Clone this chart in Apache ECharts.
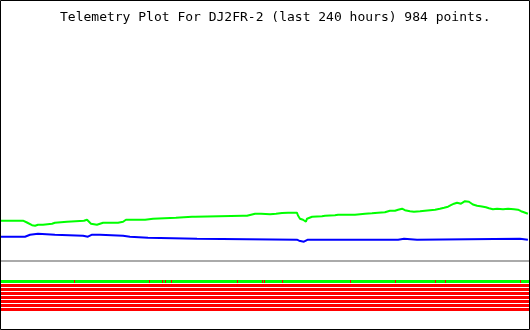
<!DOCTYPE html>
<html><head><meta charset="utf-8">
<script src="https://cdn.jsdelivr.net/npm/echarts@6/dist/echarts.min.js"></script>
<style>html,body{margin:0;padding:0;background:#fff}#c{width:530px;height:330px}</style>
</head><body><div id="c"></div>
<script>
const titleText = 'Telemetry Plot For DJ2FR-2 (last 240 hours) 984 points.';

// hours relative to now (-240 .. 0)
const greenHours = [-240.0,-230.0,-229.5,-229.1,-228.2,-227.3,-225.9,-224.5,-223.2,-220.9,-220.0,-216.8,-216.4,-215.5,-210.0,-202.3,-200.9,-200.0,-199.1,-198.2,-196.4,-195.5,-193.6,-186.8,-186.4,-184.5,-184.1,-183.2,-174.5,-174.1,-170.9,-170.5,-160.5,-160.0,-153.2,-152.7,-151.8,-151.4,-130.0,-129.1,-128.2,-127.3,-124.5,-121.8,-117.7,-115.0,-112.3,-109.5,-105.5,-105.0,-104.1,-102.7,-101.8,-101.4,-100.9,-100.0,-98.6,-94.1,-92.7,-88.2,-86.8,-79.1,-76.8,-74.5,-71.4,-68.6,-65.5,-63.2,-60.9,-59.5,-57.7,-56.4,-54.1,-52.3,-49.5,-47.3,-45.0,-42.7,-40.5,-38.6,-36.8,-35.5,-34.1,-32.7,-31.8,-30.9,-30.0,-29.1,-28.2,-27.3,-26.4,-25.5,-23.6,-21.4,-19.6,-18.2,-17.3,-16.4,-14.5,-11.8,-9.5,-6.8,-5.0,-3.6,-2.3,-0.5];
const greenValues = [40.3,40.3,41.3,40.3,38.5,37.3,35.8,35.3,36.3,36.3,37.3,37.3,38.3,38.3,39.3,40.3,41.3,39.3,37.3,36.3,36.3,37.3,38.3,38.3,39.3,39.3,40.3,41.3,41.3,42.3,42.3,43.3,43.3,44.3,44.3,45.3,44.3,45.3,45.3,46.3,45.3,46.3,47.3,47.3,46.8,47.3,48.0,48.3,48.3,45.5,42.3,41.3,39.8,39.3,42.3,43.3,44.3,44.8,45.3,45.8,46.3,46.3,46.8,47.3,47.8,48.3,48.8,50.3,50.3,51.3,52.3,50.8,49.8,49.3,49.8,50.3,50.8,51.3,52.3,53.3,54.3,55.8,57.3,58.3,58.7,57.3,59.3,59.8,57.8,59.3,58.8,56.5,55.3,54.5,53.8,52.8,50.8,51.8,52.3,51.8,52.3,51.8,51.3,49.8,48.8,47.3];

const blueHours = [-240.0,-229.1,-228.2,-226.8,-225.9,-223.2,-222.7,-215.5,-215.0,-202.7,-202.3,-200.5,-200.0,-198.6,-195.0,-194.5,-184.5,-184.1,-181.4,-180.9,-173.2,-172.7,-150.9,-150.5,-105.5,-104.5,-102.3,-101.4,-100.5,-59.5,-59.1,-56.8,-56.4,-50.9,-50.5,-4.1,-3.6,-0.5];
const blueValues = [24.3,24.3,25.3,26.3,27.3,27.3,26.3,26.3,25.3,25.3,24.3,24.3,25.3,26.3,26.3,25.3,25.3,24.3,24.3,23.3,23.3,22.3,22.3,21.3,21.3,20.3,19.3,20.3,21.3,21.3,22.3,22.3,21.3,21.3,22.3,22.3,21.3,21.3];

// telemetry bits: default state per bit row (1 = set), and times where bit 1 dropped to 0
const bitRowDefault = [1,0,0,0,0,0,0,0];
const bit1LowHours = [-206.8,-172.7,-166.8,-165.5,-162.7,-132.7,-121.4,-120.5,-112.3,-81.4,-60.9,-42.7,-38.2,-4.1];

const pairs = (xs, ys) => xs.map((x, i) => [x, ys[i]]);
const bitData = [];
bitRowDefault.forEach((s, r) => bitData.push([-240, 0, r, s]));
bit1LowHours.forEach(h => bitData.push([h, h, 0, 0]));

function renderBits(params, api) {
  const h0 = api.value(0), h1 = api.value(1), row = api.value(2), st = api.value(3);
  const p0 = api.coord([h0, row]);
  const p1 = api.coord([h1, row]);
  let x0 = Math.round(p0[0]), x1 = Math.round(p1[0]);
  if (x1 <= x0) x1 = x0 + 1;
  const rowH = api.size([0, 1])[1];
  return {
    type: 'rect',
    shape: { x: x0, y: Math.round(p0[1]), width: x1 - x0, height: rowH - 1 },
    style: { fill: st ? '#00ff00' : '#ff0000' }
  };
}

const chart = echarts.init(document.getElementById('c'), null, { renderer: 'canvas' });
chart.setOption({
  animation: false,
  backgroundColor: '#ffffff',
  title: {
    text: titleText, left: 60, top: 11, padding: 0,
    textStyle: { fontFamily: 'DejaVu Sans Mono', fontSize: 13, fontWeight: 'normal', color: '#000' }
  },
  grid: [
    { left: 1, width: 528, top: 21, height: 240 },
    { left: 1, width: 528, top: 280, height: 32 }
  ],
  xAxis: [
    { type: 'value', gridIndex: 0, min: -240, max: 0,
      axisLine: { show: true, onZero: false, lineStyle: { color: '#aaaaaa', width: 2 } },
      axisTick: { show: false }, axisLabel: { show: false }, splitLine: { show: false } },
    { type: 'value', gridIndex: 1, min: -240, max: 0, show: false }
  ],
  yAxis: [
    { type: 'value', gridIndex: 0, min: 0, max: 240, show: false, splitLine: { show: false } },
    { type: 'value', gridIndex: 1, min: 0, max: 8, inverse: true, show: false, splitLine: { show: false } }
  ],
  series: [
    { type: 'line', xAxisIndex: 0, yAxisIndex: 0, data: pairs(greenHours, greenValues),
      showSymbol: false, symbol: 'none', lineStyle: { color: '#00ff00', width: 2 }, z: 3 },
    { type: 'line', xAxisIndex: 0, yAxisIndex: 0, data: pairs(blueHours, blueValues),
      showSymbol: false, symbol: 'none', lineStyle: { color: '#0000ff', width: 2 }, z: 3 },
    { type: 'custom', xAxisIndex: 1, yAxisIndex: 1, data: bitData, renderItem: renderBits,
      encode: { x: [0, 1], y: 2 }, silent: true }
  ],
  graphic: [
    { type: 'rect', z: 100, silent: true,
      shape: { x: 0.5, y: 0.5, width: 529, height: 329 },
      style: { fill: null, stroke: '#000', lineWidth: 1 } }
  ]
});
</script>
</body></html>
